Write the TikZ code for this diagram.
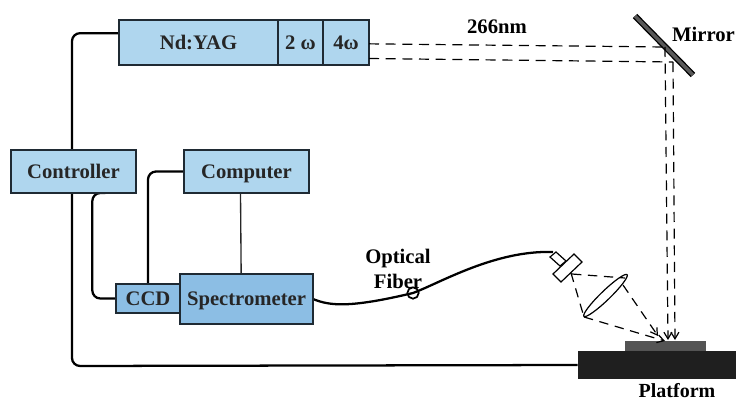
\documentclass[tikz,border=0pt]{standalone}
\usepackage{fontspec}
\setmainfont{Liberation Serif}
\usetikzlibrary{backgrounds,arrows.meta,shapes.geometric}
\definecolor{lightbox}{HTML}{AFD6EE}
\definecolor{darkbox}{HTML}{8CBEE4}
\definecolor{edgecol}{HTML}{1F2A33}
\tikzset{
  x=0.75pt,y=-0.75pt,
  box/.style={draw=edgecol,line width=1pt,fill=lightbox,inner sep=0pt,outer sep=0pt,font=\fontsize{15.5}{17}\selectfont\bfseries,text=black!85,text height=10.2pt,text depth=0pt},
  dbox/.style={box,fill=darkbox},
  wire/.style={draw=black,line width=1.7pt,rounded corners=6pt},
  thinwire/.style={draw=black!85,line width=1pt},
  beam/.style={draw=black,line width=0.9pt,dash pattern=on 7.5pt off 5pt},
  ray/.style={draw=black,line width=0.9pt,dash pattern=on 7pt off 5pt},
  barb/.style={-{Straight Barb[length=5pt,width=6pt]}},
  lbl/.style={inner sep=0pt,font=\fontsize{15.5}{17}\selectfont\bfseries,text=black,text height=10.2pt,text depth=0pt},
  optic/.style={draw=black,line width=0.9pt,fill=white},
}
\begin{document}
\begin{tikzpicture}
\useasboundingbox (0,0) rectangle (736,400);
% boxes
\node[box,minimum width=119.25pt,minimum height=33.75pt] (yag) at (198.5,42.5) {Nd:YAG};
\node[box,minimum width=33.75pt,minimum height=33.75pt] (two) at (300.5,42.5) {2 ω};
\node[box,minimum width=34.5pt,minimum height=33.75pt] (four) at (346,42.5) {4ω};
\node[box,minimum width=93.75pt,minimum height=32.25pt] (ctrl) at (73.5,171.5) {Controller};
\node[box,minimum width=93.75pt,minimum height=32.25pt] (comp) at (246.5,171.5) {Computer};
\node[dbox,minimum width=48pt,minimum height=21.75pt] (ccd) at (148,298.5) {CCD};
\node[dbox,minimum width=99.75pt,minimum height=37.5pt] (spec) at (246.5,299) {Spectrometer};
% platform and sample
\node[draw=none,fill=black!88,minimum width=118.5pt,minimum height=21pt,inner sep=0pt] (plat) at (657,365) {};
\node[draw=none,fill=black!67,minimum width=60.75pt,minimum height=7.5pt,inner sep=0pt] (samp) at (665.5,346) {};
% labels
\node[lbl,font=\fontsize{15}{17}\selectfont\bfseries,text height=9.9pt] (lplat) at (677,391) {Platform};
\node[lbl] (lmir) at (703.5,35) {Mirror};
\node[lbl] (l266) at (497,27) {266nm};
\node[lbl] (lopt) at (398,257) {Optical};
\node[lbl] (lfib) at (398,282) {Fiber};
% fibre loop
\node[draw=black,line width=1.3pt,circle,minimum size=8.5pt,inner sep=0pt] (loop) at (413,293) {};
% lens
\node[optic,ellipse,rotate=44,minimum width=45pt,minimum height=7pt,inner sep=0pt] (lens) at (605.5,295.5) {};
% collimator
\draw[optic] (550,257) -- (556,252) -- (566,261) -- (560,266) -- cycle;
\draw[optic] (553,274) -- (574,254) -- (582,262) -- (561,282) -- cycle;
\coordinate (colend) at (553,252);
\coordinate (colL) at (571,273);
\coordinate (colR) at (572,274);
\coordinate (lensA) at (584,317);
\coordinate (lensB) at (625,278);
\coordinate (lensC) at (623,285);
\coordinate (spot) at (665,341);
\coordinate (spotB) at (658,336);
% mirror
\coordinate (mA) at (635,16);
\coordinate (mB) at (693,75);
\draw[black,line width=4.6pt] (mA) -- (mB);
\draw[black!65,line width=2.6pt] (mA) -- (mB);
% beams
\coordinate (u1) at (665,47);
\coordinate (u2) at (673,62);
\coordinate (d1) at (668,340);
\coordinate (d2) at (675,340);
\draw[beam] ([yshift=-1pt]four.east) -- (u1);
\draw[beam] ([yshift=-12pt]four.east) -- (u2);
\draw[beam,barb] (u1) -- (d1);
\draw[beam,barb] (u2) -- (d2);
% rays
\draw[ray] (colL) -- (lensA);
\draw[ray] (colR) -- (lensB);
\draw[ray,barb] (lensC) -- (spotB);
\draw[ray,barb] (lensA) -- (spot);
\begin{scope}[on background layer]
  \coordinate (lineturn) at (72,366);
  \draw[wire] ([yshift=7pt]yag.west) -| (lineturn) -- (plat.west);
  \draw[wire] ([xshift=-23pt]ctrl.south east) -- ++(-13,0) |- (ccd.west);
  \draw[wire] (comp.west) -| (ccd.north);
  \draw[thinwire] (comp.south) ++(-6,0) -- ([xshift=-4pt]spec.north);
  \draw[black,line width=1.7pt] (spec.east) .. controls (330,306) and (350,308) .. (loop.center)
     .. controls (440,283) and (495,250) .. (colend);
\end{scope}
\end{tikzpicture}
\end{document}
